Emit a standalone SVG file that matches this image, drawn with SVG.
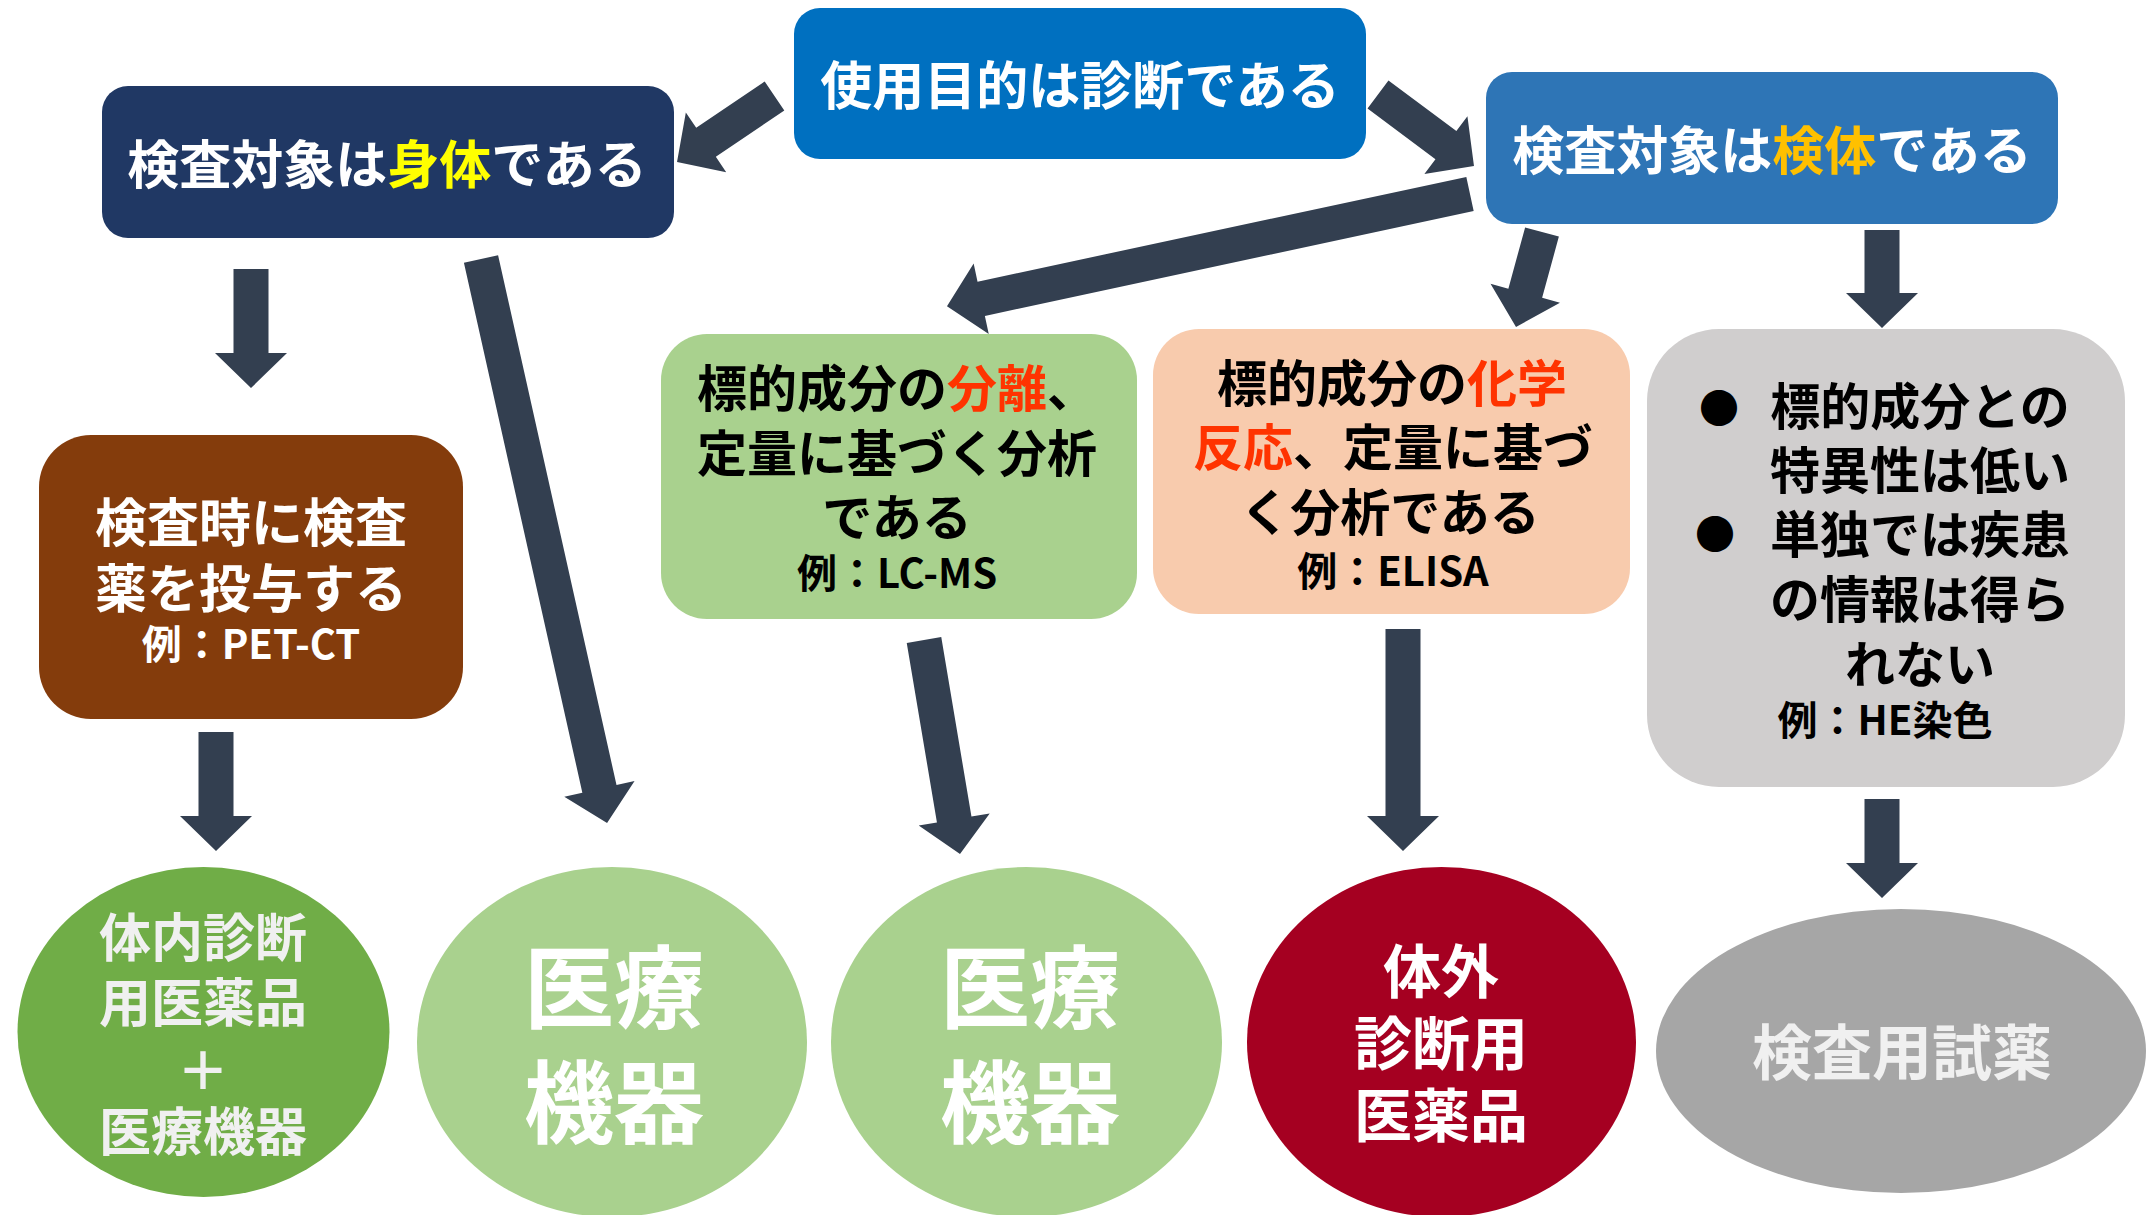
<svg xmlns="http://www.w3.org/2000/svg" width="2146" height="1215" viewBox="0 0 2146 1215">
<style>
  text { font-family: "Noto Sans CJK JP", "Noto Sans", sans-serif; font-weight: 700; text-anchor: middle; }
  .w { fill: #FFFFFF; }
  .k { fill: #000000; }
  .e { fill: #F0F0F0; }
  .big { font-size: 52px; }
  .mid { font-size: 50px; }
  .sm { font-size: 40px; }
  .red { fill: #FF3300; }
  .arrow { fill: #333F50; }
</style>
<rect width="2146" height="1215" fill="#FFFFFF"/>

<g id="connectors">
  <polygon class="arrow" transform="translate(774.5,96) rotate(145.9)" points="0,-17.5 82.7,-17.5 82.7,-36 117.7,0 82.7,36 82.7,17.5 0,17.5"/>
  <polygon class="arrow" transform="translate(1378,94.5) rotate(36.7)" points="0,-17.5 84.7,-17.5 84.7,-36 119.7,0 84.7,36 84.7,17.5 0,17.5"/>
  <polygon class="arrow" transform="translate(1470,194) rotate(167.9)" points="0,-17.5 499.9,-17.5 499.9,-36 534.9,0 499.9,36 499.9,17.5 0,17.5"/>
  <polygon class="arrow" transform="translate(481,259) rotate(77.4)" points="0,-17.5 542.9,-17.5 542.9,-36 577.9,0 542.9,36 542.9,17.5 0,17.5"/>
  <polygon class="arrow" transform="translate(251,269) rotate(90)" points="0,-17.5 84,-17.5 84,-36 119,0 84,36 84,17.5 0,17.5"/>
  <polygon class="arrow" transform="translate(216,732) rotate(90)" points="0,-17.5 84,-17.5 84,-36 119,0 84,36 84,17.5 0,17.5"/>
  <polygon class="arrow" transform="translate(924,640) rotate(80.45)" points="0,-17.5 182,-17.5 182,-36 217,0 182,36 182,17.5 0,17.5"/>
  <polygon class="arrow" transform="translate(1403,629) rotate(90)" points="0,-17.5 187,-17.5 187,-36 222,0 187,36 187,17.5 0,17.5"/>
  <polygon class="arrow" transform="translate(1542,232) rotate(105.3)" points="0,-17.5 63.5,-17.5 63.5,-36 98.5,0 63.5,36 63.5,17.5 0,17.5"/>
  <polygon class="arrow" transform="translate(1882,230) rotate(90)" points="0,-17.5 63,-17.5 63,-36 98,0 63,36 63,17.5 0,17.5"/>
  <polygon class="arrow" transform="translate(1882,799) rotate(90)" points="0,-17.5 64,-17.5 64,-36 99,0 64,36 64,17.5 0,17.5"/>
</g>

<g id="purpose">
  <rect x="794" y="8" width="572" height="151" rx="26" fill="#0070C0"/>
  <text class="w big" x="1080" y="104.8">使用目的は診断である</text>
</g>

<g id="body-target">
  <rect x="102" y="86" width="572" height="152" rx="26" fill="#203864"/>
  <text class="w big" x="387" y="183.8">検査対象は<tspan fill="#FFFF00">身体</tspan>である</text>
</g>

<g id="specimen-target">
  <rect x="1486" y="72" width="572" height="152" rx="26" fill="#2E75B6"/>
  <text class="w big" x="1772" y="169.8">検査対象は<tspan fill="#FFC000">検体</tspan>である</text>
</g>

<g id="drug-admin">
  <rect x="39" y="435" width="424" height="284" rx="52" fill="#843C0C"/>
  <text class="w big" x="251" y="541.8">検査時に検査</text>
  <text class="w big" x="251" y="607.8">薬を投与する</text>
  <text class="w sm" x="251" y="659">例：PET-CT</text>
</g>

<g id="separation">
  <rect x="661" y="334" width="476" height="285" rx="46" fill="#A9D18E"/>
  <text class="k mid" x="897" y="407">標的成分の<tspan class="red">分離</tspan>、</text>
  <text class="k mid" x="897" y="472">定量に基づく分析</text>
  <text class="k mid" x="897" y="536">である</text>
  <text class="k sm" x="897" y="588">例：LC-MS</text>
</g>

<g id="reaction">
  <rect x="1153" y="329" width="477" height="285" rx="46" fill="#F8CBAD"/>
  <text class="k mid" x="1392" y="402"><tspan>標的成分の</tspan><tspan class="red">化学</tspan></text>
  <text class="k mid" x="1393" y="466"><tspan class="red">反応</tspan>、定量に基づ</text>
  <text class="k mid" x="1390" y="531">く分析である</text>
  <text class="k sm" x="1393" y="586">例：ELISA</text>
</g>

<g id="low-specificity">
  <rect x="1647" y="329" width="478" height="458" rx="72" fill="#D0CECE"/>
  <text class="k" x="1719" y="423" font-size="40">●</text>
  <text class="k mid" x="1920" y="425">標的成分との</text>
  <text class="k mid" x="1920" y="489">特異性は低い</text>
  <text class="k" x="1715" y="549" font-size="40">●</text>
  <text class="k mid" x="1920" y="553">単独では疾患</text>
  <text class="k mid" x="1920" y="618">の情報は得ら</text>
  <text class="k mid" x="1920" y="683">れない</text>
  <text class="k sm" x="1885" y="735">例：HE染色</text>
</g>

<g id="in-vivo">
  <ellipse cx="203.5" cy="1032" rx="186" ry="165" fill="#70AD47"/>
  <text class="e big" x="203" y="956.8">体内診断</text>
  <text class="e big" x="203" y="1021.8">用医薬品</text>
  <text class="e big" x="203" y="1090">＋</text>
  <text class="e big" x="203" y="1150.8">医療機器</text>
</g>

<g id="device-1">
  <ellipse cx="612" cy="1042" rx="195" ry="175" fill="#A9D18E"/>
  <text class="w" x="614" y="1021" font-size="90">医療</text>
  <text class="w" x="614" y="1136" font-size="90">機器</text>
</g>

<g id="device-2">
  <ellipse cx="1026.5" cy="1042" rx="195.5" ry="175" fill="#A9D18E"/>
  <text class="w" x="1030" y="1021" font-size="90">医療</text>
  <text class="w" x="1030" y="1136" font-size="90">機器</text>
</g>

<g id="ivd">
  <ellipse cx="1441.5" cy="1042" rx="194.5" ry="175" fill="#A50021"/>
  <text class="w" x="1441" y="993" font-size="58">体外</text>
  <text class="w" x="1441" y="1065" font-size="58">診断用</text>
  <text class="w" x="1441" y="1137" font-size="58">医薬品</text>
</g>

<g id="reagent">
  <ellipse cx="1901" cy="1051" rx="245" ry="142" fill="#A6A6A6"/>
  <text class="e" x="1902" y="1075" font-size="60">検査用試薬</text>
</g>
</svg>
